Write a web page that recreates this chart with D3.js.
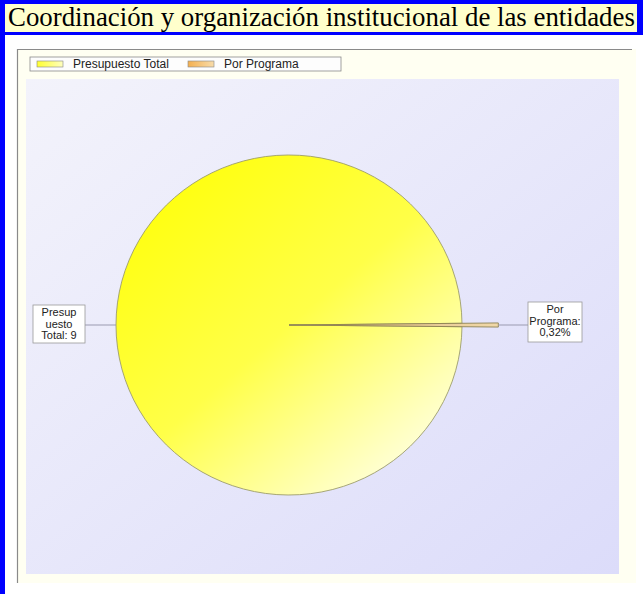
<!DOCTYPE html>
<html>
<head>
<meta charset="utf-8">
<script src="https://cdn.jsdelivr.net/npm/d3@7/dist/d3.min.js"></script>
<style>
  body { margin: 0; background: #fff; }
  svg { display: block; }
</style>
</head>
<body>
<script>
// data
var title = 'Coordinación y organización institucional de las entidades';
var categories = ['Presupuesto Total', 'Por Programa'];
var values = [99.68, 0.32];
var labelLines = [['Presup', 'uesto', 'Total: 9'], ['Por', 'Programa:', '0,32%']];

var width = 643, height = 594;
var cx = 289, cy = 325, rx = 173, ry = 170;

var svg = d3.select('body').append('svg')
  .attr('width', width)
  .attr('height', height);

var defs = svg.append('defs');

// gradients
var g1 = defs.append('linearGradient').attr('id', 'plotBg')
  .attr('x1', '0%').attr('y1', '0%').attr('x2', '100%').attr('y2', '100%');
g1.append('stop').attr('offset', '0%').attr('stop-color', '#f3f3fb');
g1.append('stop').attr('offset', '100%').attr('stop-color', '#dcdcfa');

var g2 = defs.append('linearGradient').attr('id', 'pieYellow')
  .attr('x1', '15%').attr('y1', '10%').attr('x2', '85%').attr('y2', '90%');
g2.append('stop').attr('offset', '0%').attr('stop-color', '#ffff10');
g2.append('stop').attr('offset', '50%').attr('stop-color', '#ffff48');
g2.append('stop').attr('offset', '100%').attr('stop-color', '#ffffd8');

var g3 = defs.append('linearGradient').attr('id', 'sliceTan')
  .attr('x1', '0%').attr('y1', '0%').attr('x2', '100%').attr('y2', '0%');
g3.append('stop').attr('offset', '0%').attr('stop-color', '#d8b070');
g3.append('stop').attr('offset', '100%').attr('stop-color', '#f0d8a8');

var swY = defs.append('linearGradient').attr('id', 'swYellow')
  .attr('x1', '0%').attr('y1', '0%').attr('x2', '100%').attr('y2', '0%');
swY.append('stop').attr('offset', '0%').attr('stop-color', '#ffff30');
swY.append('stop').attr('offset', '100%').attr('stop-color', '#ffffc0');

var swO = defs.append('linearGradient').attr('id', 'swOrange')
  .attr('x1', '0%').attr('y1', '0%').attr('x2', '100%').attr('y2', '0%');
swO.append('stop').attr('offset', '0%').attr('stop-color', '#f4b050');
swO.append('stop').attr('offset', '100%').attr('stop-color', '#f8dcaa');

var legendFill = ['url(#swYellow)', 'url(#swOrange)'];
var sliceFill = ['url(#pieYellow)', 'url(#sliceTan)'];

// page frame (blue borders + title band)
svg.append('rect').attr('x', 0).attr('y', 0).attr('width', 5).attr('height', height).attr('fill', '#0000ff');
svg.append('rect').attr('x', 0).attr('y', 0).attr('width', width).attr('height', 4).attr('fill', '#0000ff');
svg.append('rect').attr('x', 5).attr('y', 4).attr('width', 632).attr('height', 28).attr('fill', '#ffffcc');
svg.append('rect').attr('x', 637).attr('y', 0).attr('width', 6).attr('height', 35).attr('fill', '#0000ff');
svg.append('rect').attr('x', 0).attr('y', 32).attr('width', width).attr('height', 3).attr('fill', '#0000ff');

var titleText = svg.append('text')
  .attr('x', 8).attr('y', 26)
  .attr('font-family', 'Liberation Serif, Times New Roman, serif')
  .attr('font-size', 22)
  .attr('fill', '#000')
  .text(title);
var tw = titleText.node().getComputedTextLength();
titleText.attr('font-size', 22 * 627 / tw);

// chart image frame
svg.append('rect').attr('x', 17).attr('y', 49).attr('width', 619).attr('height', 534)
  .attr('fill', '#fffff2');
svg.append('line').attr('x1', 17).attr('y1', 49.5).attr('x2', 632).attr('y2', 49.5)
  .attr('stroke', '#8a8a8a').attr('stroke-width', 1.2);
svg.append('line').attr('x1', 17.5).attr('y1', 49).attr('x2', 17.5).attr('y2', 583)
  .attr('stroke', '#8a8a8a').attr('stroke-width', 1.2);

// plot area
svg.append('rect').attr('x', 26).attr('y', 79).attr('width', 593).attr('height', 495)
  .attr('fill', 'url(#plotBg)');

// legend
var legend = svg.append('g').attr('transform', 'translate(30,57)');
legend.append('rect').attr('width', 311).attr('height', 14)
  .attr('fill', '#fdfdfd').attr('stroke', '#8a8a8a').attr('stroke-width', 0.8);
var legX = [7, 158];
categories.forEach(function(c, i) {
  legend.append('rect').attr('x', legX[i]).attr('y', 4).attr('width', 26).attr('height', 6)
    .attr('fill', legendFill[i]).attr('stroke', '#888').attr('stroke-width', 0.6);
  legend.append('text').attr('x', legX[i] + 36).attr('y', 11)
    .attr('font-family', 'Liberation Sans, Arial, sans-serif')
    .attr('font-size', 12).attr('fill', '#222')
    .text(c);
});

// pie
var total = d3.sum(values);
var smallSpan = 2 * Math.PI * values[1] / total;
var pie = d3.pie().sort(null)
  .startAngle(Math.PI / 2 + smallSpan / 2)
  .endAngle(Math.PI / 2 + smallSpan / 2 + 2 * Math.PI);
var arcs = pie(values);

var pieG = svg.append('g')
  .attr('transform', 'translate(' + cx + ',' + cy + ') scale(1,' + (ry / rx) + ')');

var arcMain = d3.arc().innerRadius(0).outerRadius(rx);
var arcOut = d3.arc().innerRadius(0).outerRadius(rx * 1.21);

pieG.selectAll('path.slice')
  .data(arcs)
  .enter().append('path')
  .attr('class', 'slice')
  .attr('d', function(d, i) { return i === 0 ? arcMain(d) : arcOut(d); })
  .attr('fill', function(d, i) { return sliceFill[i]; })
  .attr('stroke', function(d, i) { return i === 0 ? '#9c9c6a' : '#8c8050'; })
  .attr('stroke-width', 0.9);

// labels with leader lines
var labelFont = 'Liberation Sans, Arial, sans-serif';
function drawLabel(lines, boxX, boxY, boxW, boxH, lx1, lx2) {
  svg.append('line').attr('x1', lx1).attr('y1', cy).attr('x2', lx2).attr('y2', cy)
    .attr('stroke', '#9a9ab0').attr('stroke-width', 1);
  svg.append('rect').attr('x', boxX).attr('y', boxY).attr('width', boxW).attr('height', boxH)
    .attr('fill', '#fff').attr('stroke', '#999').attr('stroke-width', 0.8);
  lines.forEach(function(t, j) {
    svg.append('text')
      .attr('x', boxX + boxW / 2).attr('y', boxY + 11 + j * 11.5)
      .attr('text-anchor', 'middle')
      .attr('font-family', labelFont).attr('font-size', 11).attr('fill', '#222')
      .text(t);
  });
}

// left label (Presupuesto Total)
var leftEdge = cx - rx;
drawLabel(labelLines[0], 33, 305, 52, 38, leftEdge, 85);
// right label (Por Programa)
var tip = cx + rx * 1.21;
drawLabel(labelLines[1], 528, 302, 54, 40, tip, 528);
</script>
</body>
</html>
